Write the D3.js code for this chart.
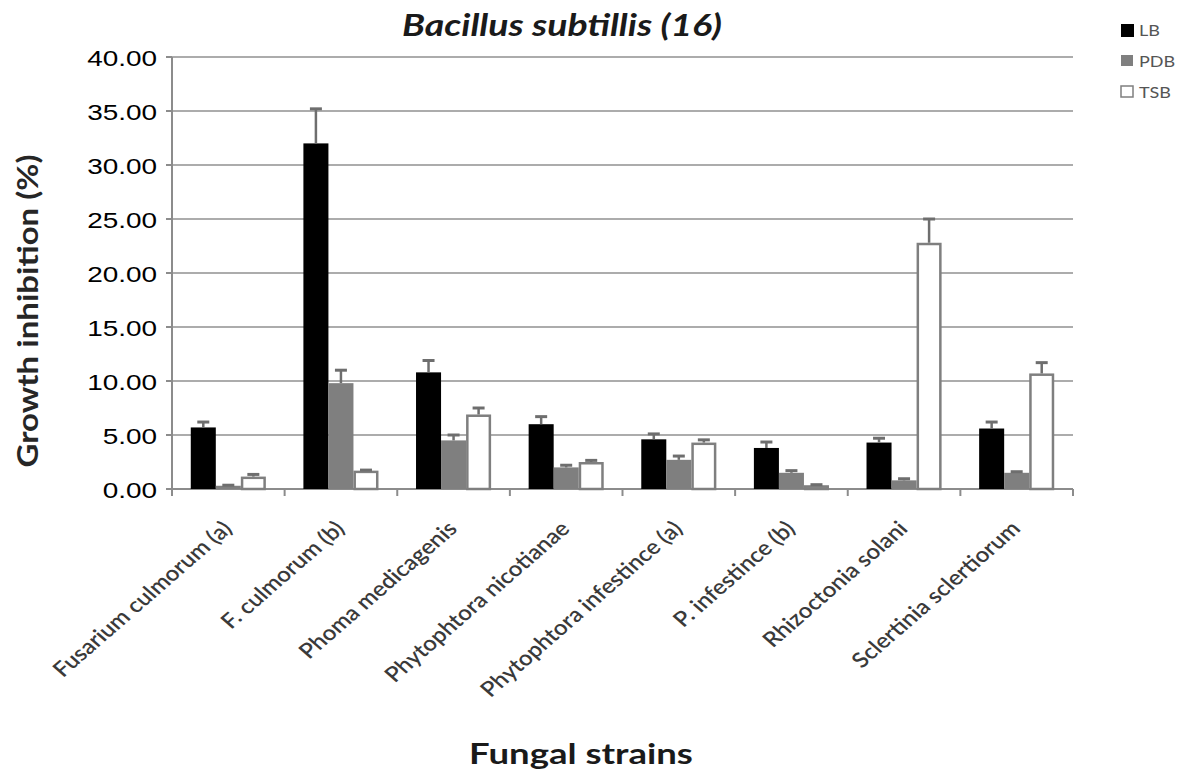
<!DOCTYPE html>
<html><head><meta charset="utf-8">
<script src="https://cdn.jsdelivr.net/npm/d3@7"></script>
<style>body{margin:0;background:#fff}svg{display:block}</style>
</head><body>
<svg id="c" width="1196" height="772"></svg>
<script>
const categories = ["Fusarium culmorum (a)", "F. culmorum (b)", "Phoma medicagenis", "Phytophtora nicotianae", "Phytophtora infestince (a)", "P. infestince (b)", "Rhizoctonia solani", "Sclertinia sclertiorum"];
const seriesNames = ["LB", "PDB", "TSB"];
const LB = [5.7, 32.0, 10.8, 6.0, 4.6, 3.8, 4.3, 5.6];
const LBerr = [0.5, 3.2, 1.1, 0.7, 0.5, 0.55, 0.4, 0.6];
const PDB = [0.3, 9.8, 4.5, 2.0, 2.7, 1.5, 0.8, 1.5];
const PDBerr = [0.05, 1.2, 0.5, 0.2, 0.35, 0.2, 0.15, 0.1];
const TSB = [1.15, 1.7, 6.9, 2.5, 4.3, 0.35, 22.8, 10.7];
const TSBerr = [0.2, 0.05, 0.6, 0.15, 0.25, 0.05, 2.2, 1.0];
const yTicks = [0, 5, 10, 15, 20, 25, 30, 35, 40];
const title = "Bacillus subtillis (16)";
const xTitle = "Fungal strains";
const yTitle = "Growth inhibition (%)";

const values = {LB: LB, PDB: PDB, TSB: TSB};
const errs = {LB: LBerr, PDB: PDBerr, TSB: TSBerr};
const fills = {LB: "#000000", PDB: "#7f7f7f", TSB: "#ffffff"};
const strokes = {LB: "#000000", PDB: "#7f7f7f", TSB: "#7f7f7f"};

const svg = d3.select("#c");
const L = 172, R = 1073, T = 57, B = 489;
const SX = 1.15;

const x = d3.scaleBand().domain(categories).range([L, R]).paddingInner(0.3333).paddingOuter(0.1667);
const xs = d3.scaleBand().domain(seriesNames).range([0, x.bandwidth()]);
const y = d3.scaleLinear().domain([0, 40]).range([B, T]);

// gridlines
svg.append("g").selectAll("line").data(yTicks.filter(d => d > 0)).join("line")
  .attr("x1", L).attr("x2", R).attr("y1", d => y(d)).attr("y2", d => y(d))
  .attr("stroke", "#acacac").attr("stroke-width", 2);

// y axis
svg.append("line").attr("x1", L).attr("x2", L).attr("y1", T).attr("y2", B).attr("stroke", "#8c8c8c").attr("stroke-width", 2);
svg.append("g").selectAll("line").data(yTicks).join("line")
  .attr("x1", L - 6).attr("x2", L).attr("y1", d => y(d)).attr("y2", d => y(d))
  .attr("stroke", "#8c8c8c").attr("stroke-width", 2);
svg.append("g").selectAll("text").data(yTicks).join("text")
  .attr("transform", d => `translate(157,${y(d) + 9}) scale(1.27,1)`)
  .attr("text-anchor", "end")
  .style("font-family", "'Liberation Sans', Arial, sans-serif").style("font-size", "22px").attr("fill", "#000")
  .text(d => d3.format(".2f")(d));

// x axis
const bounds = categories.map(c => x(c) - x.step() * x.paddingInner() / 2).concat([R]);
svg.append("line").attr("x1", L).attr("x2", R).attr("y1", B).attr("y2", B).attr("stroke", "#8c8c8c").attr("stroke-width", 2);
svg.append("g").selectAll("line").data(bounds).join("line")
  .attr("x1", d => d).attr("x2", d => d).attr("y1", B).attr("y2", B + 7)
  .attr("stroke", "#8c8c8c").attr("stroke-width", 2);

// bars
const g = svg.append("g");
seriesNames.forEach(s => {
  const sw = s === "TSB" ? 2.5 : 0;
  g.append("g").selectAll("rect").data(categories).join("rect")
    .attr("x", (c) => x(c) + xs(s) + sw / 2)
    .attr("width", xs.bandwidth() - sw)
    .attr("y", (c, i) => y(values[s][i]) + sw / 2)
    .attr("height", (c, i) => Math.max(0, B - y(values[s][i]) - sw / 2))
    .attr("fill", fills[s]).attr("stroke", s === "TSB" ? strokes[s] : "none").attr("stroke-width", sw);
});
// error bars
seriesNames.forEach(s => {
  const eg = g.append("g").attr("stroke", "#6e6e6e").attr("stroke-width", 2.5);
  categories.forEach((c, i) => {
    const cx = x(c) + xs(s) + xs.bandwidth() / 2;
    const v = values[s][i], e = errs[s][i];
    eg.append("line").attr("x1", cx).attr("x2", cx).attr("y1", y(v)).attr("y2", y(v + e));
    eg.append("line").attr("x1", cx - 6).attr("x2", cx + 6).attr("y1", y(v + e)).attr("y2", y(v + e)).attr("stroke-width", 3);
  });
});

// x labels
svg.append("g").selectAll("text").data(categories).join("text")
  .attr("transform", c => `translate(${x(c) + x.bandwidth() / 2 + 5},${B + 41}) scale(${SX},1) rotate(-45)`)
  .attr("text-anchor", "end")
  .style("font-family", "Lato, 'Open Sans', sans-serif").style("font-size", "21px").style("font-weight", "600")
  .attr("fill", "#3a3a3a")
  .text(c => c);

// title
svg.append("text").attr("transform", `translate(562,36) scale(1.25,1)`).attr("text-anchor", "middle")
  .style("font-family", "Lato, sans-serif").style("font-size", "30px").style("font-weight", "bold").style("font-style", "italic")
  .attr("fill", "#1a1a1a").text(title);

// axis titles
svg.append("text").attr("transform", `translate(581,764) scale(1.26,1)`).attr("text-anchor", "middle")
  .style("font-family", "Lato, sans-serif").style("font-size", "29px").style("font-weight", "bold")
  .attr("fill", "#1a1a1a").text(xTitle);
svg.append("text").attr("transform", `translate(38,311) rotate(-90) scale(1.18,1)`).attr("text-anchor", "middle")
  .style("font-family", "Lato, sans-serif").style("font-size", "28px").style("font-weight", "bold")
  .attr("fill", "#262626").text(yTitle);

// legend
const lg = svg.append("g").selectAll("g").data(seriesNames).join("g")
  .attr("transform", (s, i) => `translate(1121,${24 + i * 31})`);
lg.append("rect").attr("x", 0).attr("y", 0).attr("width", (s, i) => i === 0 ? 13 : 12).attr("height", (s, i) => i === 0 ? 13 : 11)
  .attr("fill", s => fills[s]).attr("stroke", s => strokes[s]).attr("stroke-width", s => s === "TSB" ? 1.5 : 0);
lg.append("text").attr("transform", `translate(18,12) scale(1.2,1)`)
  .style("font-family", "Lato, sans-serif").style("font-size", "15px").attr("fill", "#555")
  .text(s => s);
</script>
</body></html>
